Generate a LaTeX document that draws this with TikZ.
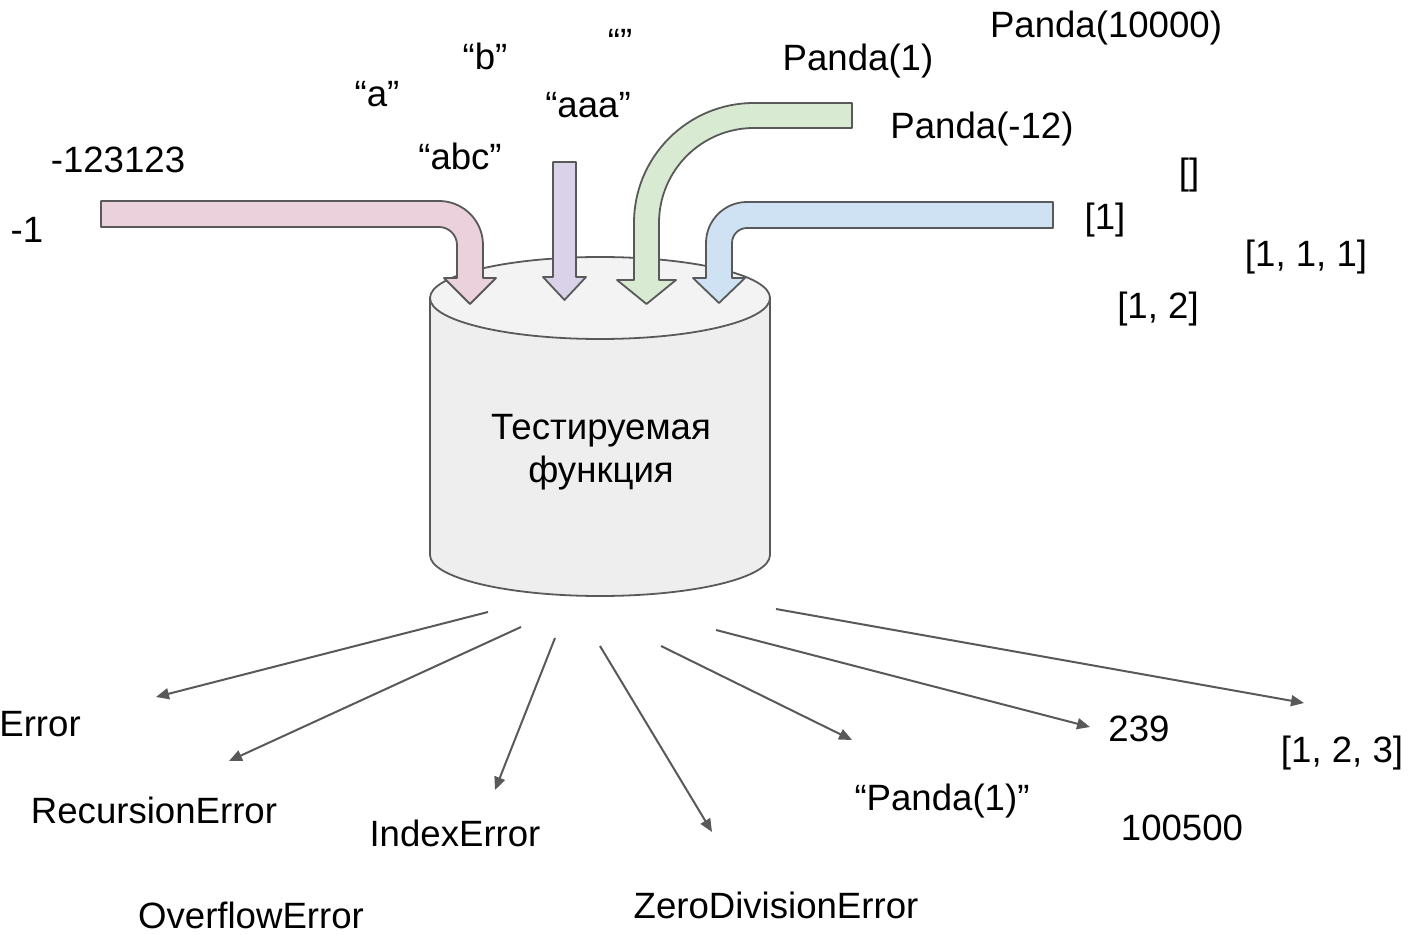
\documentclass[tikz,border=0pt]{standalone}
\usepackage{fontspec}
\setmainfont{Liberation Sans}
\usetikzlibrary{arrows.meta}
\definecolor{edge}{HTML}{595959}
\definecolor{pinkfill}{HTML}{EAD1DC}
\definecolor{purplefill}{HTML}{D9D2E9}
\definecolor{greenfill}{HTML}{D9EAD3}
\definecolor{bluefill}{HTML}{CFE2F3}
\definecolor{cyltop}{HTML}{F3F3F3}
\definecolor{cylside}{HTML}{EEEEEE}
\tikzset{
  lbl/.style={inner sep=0pt, anchor=base, font=\fontsize{18.3pt}{22pt}\selectfont},
  blockarrow/.style={draw=edge, line width=0.9pt, line join=round},
  conn/.style={draw=edge, line width=1pt, -{Triangle[length=6.5pt,width=5.5pt]}},
  cyl/.style={draw=edge, line width=0.9pt}
}
\begin{document}
\begin{tikzpicture}[x=0.5pt, y=-0.5pt]
\useasboundingbox (0,0) rectangle (1408,935);

% cylinder: body, then the lid
\path[cyl, fill=cylside] (430,298) -- (430,555)
  .. controls (430,577.6) and (506.1,596) .. (600,596)
  .. controls (693.9,596) and (770,577.6) .. (770,555) -- (770,298);
\fill[cylside] (430,298) rectangle (770,400);
\draw[cyl] (430,298) -- (430,555);
\draw[cyl] (770,298) -- (770,555);
\draw[cyl, fill=cyltop] (600,298) ellipse [x radius=85pt, y radius=20.5pt];

\node[lbl] (func1) at (601,440) {Тестируемая};
\node[lbl] (func2) at (601,482) {функция};

% input arrows
\path[blockarrow, fill=pinkfill] (101,201) -- (439,201)
  .. controls (463.3,201) and (483,220.7) .. (483,245) -- (483,278) -- (496,278)
  -- (470,304) -- (444,278) -- (457,278) -- (457,245)
  .. controls (457,235.1) and (448.9,227) .. (439,227) -- (101,227) -- cycle;

\path[blockarrow, fill=purplefill] (553,162) -- (576,162) -- (576,277) -- (586,277)
  -- (564.5,300) -- (543,277) -- (553,277) -- cycle;

\path[blockarrow, fill=greenfill] (852,103) -- (754,103)
  .. controls (687.7,103) and (634,156.7) .. (634,223) -- (634,280) -- (617,280)
  -- (646.5,304) -- (676,280) -- (659,280) -- (659,223)
  .. controls (659,170.5) and (701.5,128) .. (754,128) -- (852,128) -- cycle;

\path[blockarrow, fill=bluefill] (1053,202) -- (747,202)
  .. controls (724.4,202) and (706,220.4) .. (706,243) -- (706,278) -- (693,278)
  -- (719,303) -- (745,278) -- (732,278) -- (732,243)
  .. controls (732,234.7) and (738.7,228) .. (747,228) -- (1053,228) -- cycle;

% input values
\node[lbl] (n123123) at (118,173) {-123123};
\node[lbl] (n1) at (27,243) {-1};
\node[lbl] (qa) at (377,107) {“a”};
\node[lbl] (qb) at (485,70) {“b”};
\node[lbl] (qempty) at (620,55) {“”};
\node[lbl] (qaaa) at (588,118) {“aaa”};
\node[lbl] (qabc) at (460,170) {“abc”};
\node[lbl] (panda1) at (858,71) {Panda(1)};
\node[lbl] (panda10000) at (1106,38) {Panda(10000)};
\node[lbl] (pandam12) at (982,139) {Panda(-12)};
\node[lbl] (lempty) at (1189,185) {[]};
\node[lbl] (lone) at (1105,230) {[1]};
\node[lbl] (lthree) at (1306,267) {[1, 1, 1]};
\node[lbl] (ltwo) at (1158,319) {[1, 2]};

% outputs
\node[lbl, anchor=base west] (err) at (-1,736) {Error};
\node[lbl] (rec) at (154,823) {RecursionError};
\node[lbl] (idx) at (455,846) {IndexError};
\node[lbl] (ovf) at (251,928) {OverflowError};
\node[lbl] (zde) at (776,918) {ZeroDivisionError};
\node[lbl] (spanda) at (942,810) {“Panda(1)”};
\node[lbl] (n239) at (1139,741) {239};
\node[lbl] (lres) at (1342,762) {[1, 2, 3]};
\node[lbl] (n100500) at (1182,840) {100500};

% fan of result arrows
\coordinate (s1) at (488,612);  \coordinate (t1) at (156,697);
\coordinate (s2) at (521,627);  \coordinate (t2) at (229,761);
\coordinate (s3) at (555,638);  \coordinate (t3) at (495,790);
\coordinate (s4) at (600,646);  \coordinate (t4) at (712,832);
\coordinate (s5) at (661,646);  \coordinate (t5) at (852,740);
\coordinate (s6) at (716,630);  \coordinate (t6) at (1090,727);
\coordinate (s7) at (776,609);  \coordinate (t7) at (1304,703);
\foreach \i in {1,...,7} { \draw[conn] (s\i) -- (t\i); }
\end{tikzpicture}
\end{document}
